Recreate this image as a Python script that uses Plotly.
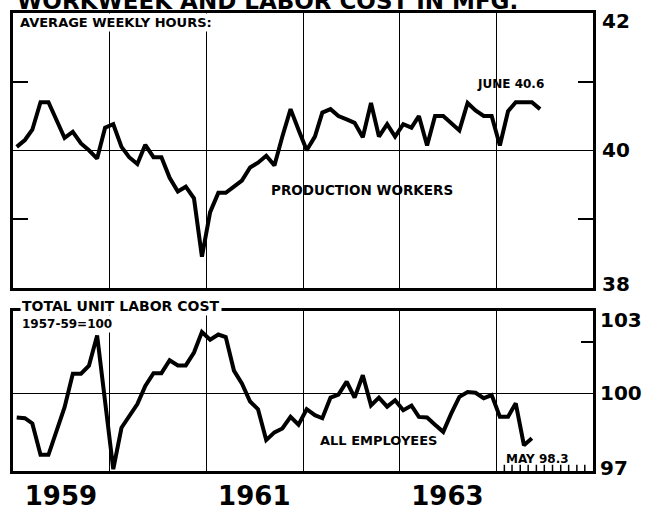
import pandas as pd
import plotly.graph_objects as go

# average weekly hours, production workers, Jan 1959 - Jun 1964
hours = [40.05, 40.15, 40.3, 40.7, 40.7, 40.45, 40.18, 40.27, 40.1, 40.0, 39.88, 40.33,
         40.38, 40.05, 39.9, 39.8, 40.08, 39.9, 39.9, 39.6, 39.4, 39.47, 39.3, 38.45,
         39.1, 39.38, 39.38, 39.47, 39.56, 39.75, 39.82, 39.92, 39.78, 40.2, 40.6, 40.3,
         40.0, 40.2, 40.55, 40.6, 40.5, 40.45, 40.4, 40.19, 40.69, 40.2, 40.38, 40.2,
         40.38, 40.33, 40.5, 40.07, 40.5, 40.5, 40.4, 40.29, 40.69, 40.58, 40.5, 40.5,
         40.07, 40.57, 40.7, 40.7, 40.7, 40.6]

# total unit labor cost, all employees (1957-59=100), Jan 1959 - May 1964
cost = [99.08, 99.05, 98.85, 97.63, 97.63, 98.62, 99.48, 100.78, 100.78, 101.09, 102.26, 99.7,
        97.07, 98.68, 99.1, 99.6, 100.3, 100.8, 100.8, 101.3, 101.1, 101.1, 101.6, 102.4,
        102.1, 102.3, 102.2, 100.9, 100.4, 99.7, 99.4, 98.2, 98.5, 98.65, 99.1, 98.8,
        99.4, 99.17, 99.05, 99.85, 99.97, 100.47, 99.85, 100.72, 99.55, 99.85, 99.5, 99.75,
        99.36, 99.54, 99.1, 99.08, 98.8, 98.52, 99.23, 99.88, 100.07, 100.04, 99.83, 99.95,
        99.11, 99.11, 99.63, 98.0, 98.27]

hours_dates = pd.date_range("1959-01-01", periods=len(hours), freq="MS") + pd.Timedelta(days=14)
cost_dates = pd.date_range("1959-01-01", periods=len(cost), freq="MS") + pd.Timedelta(days=14)
month_marks = pd.date_range("1964-02-01", periods=11, freq="MS")

year_ticks = ["1959-07-01", "1961-07-01", "1963-07-01"]
year_labels = ["1959", "1961", "1963"]
hours_labels = [42, 40, 38]
cost_labels = [103, 100, 97]

FONT = "DejaVu Sans"
fig = go.Figure()

fig.add_trace(go.Scatter(x=hours_dates, y=hours, mode="lines",
                         line=dict(color="black", width=4), xaxis="x", yaxis="y"))
fig.add_trace(go.Scatter(x=cost_dates, y=cost, mode="lines",
                         line=dict(color="black", width=4), xaxis="x2", yaxis="y2"))
# little monthly hash marks along the bottom for 1964
fig.add_trace(go.Scatter(x=month_marks, y=[97] * len(month_marks), mode="markers",
                         marker=dict(symbol="line-ns", size=9, line=dict(color="black", width=1.5)),
                         xaxis="x2", yaxis="y2"))

xr = ["1959-01-01", "1965-01-01"]
year_grid = dict(dtick="M12", tick0="1959-01-01", showgrid=True, gridcolor="black", gridwidth=1.3, ticks="")

fig.update_layout(
    margin=dict(l=10, r=52, t=12, b=27),
    paper_bgcolor="white", plot_bgcolor="white",
    showlegend=False,
    font=dict(family=FONT, color="black", weight="bold"),
    xaxis=dict(domain=[0, 1], anchor="y", range=xr, showline=True, linecolor="black", linewidth=3,
               mirror=True, showgrid=False, tickvals=[], showticklabels=False, zeroline=False,
               minor=year_grid),
    yaxis=dict(domain=[0.4004, 1], anchor="x", range=[38, 42], showline=True, linecolor="black",
               linewidth=3, mirror="ticks", showgrid=False, tickvals=[39, 41], ticks="inside",
               ticklen=15, tickwidth=2, tickcolor="black", showticklabels=False, zeroline=False,
               minor=dict(tickvals=[40], showgrid=True, gridcolor="black", gridwidth=1.3, ticks="")),
    xaxis2=dict(domain=[0, 1], anchor="y2", range=xr, showline=True, linecolor="black", linewidth=3,
                mirror=True, showgrid=False, tickvals=year_ticks, ticktext=year_labels, ticks="",
                tickfont=dict(size=26, family=FONT, weight="bold"), zeroline=False, minor=year_grid),
    yaxis2=dict(domain=[0, 0.3485], anchor="x2", range=[97, 103.2], side="right", showline=True,
                linecolor="black", linewidth=3, mirror=True, showgrid=False, tickvals=[102],
                ticks="inside", ticklen=12, tickwidth=2, tickcolor="black", showticklabels=False,
                zeroline=False,
                minor=dict(tickvals=[100], showgrid=True, gridcolor="black", gridwidth=1.3, ticks="")),
)


def note(text, x, y, size, xanchor="left", yanchor="middle", bg=None, **kw):
    fig.add_annotation(text=text, x=x, y=y, xref=kw.pop("xref", "paper"), yref=kw.pop("yref", "paper"),
                       xanchor=xanchor, yanchor=yanchor, showarrow=False,
                       bgcolor=bg, borderpad=1,
                       font=dict(family=FONT, size=size, color="black", weight="bold"), **kw)


note("WORKWEEK AND LABOR COST IN MFG.", 0.0034, 1, 23, yanchor="bottom", yshift=-3)
note("AVERAGE WEEKLY HOURS:", 0.0086, 0.979, 13, bg="white")
note("JUNE 40.6", 0.8576, 0.845, 12, xanchor="center")
note("PRODUCTION WORKERS", 0.6020, 0.614, 13.5, xanchor="center")
note("TOTAL UNIT LABOR COST", 0.012, 0.3600, 14, bg="white")
note("1957-59=100", 0.012, 0.320, 12, bg="white")
note("ALL EMPLOYEES", 0.631, 0.066, 13, xanchor="center")
note("MAY 98.3", 0.9040, 0.027, 12, xanchor="center")

for v, ys in zip(hours_labels, [-8, 0, 4]):
    note(str(v), 1.012, v, 20, yref="y", yshift=ys)
for v, ys in zip(cost_labels, [-3, 1, 3]):
    note(str(v), 1.008, v, 20, yref="y2", yshift=ys)

# size the figure to the browser window and drop the default body margin
page_fix = ("for (const el of [document.documentElement, document.body]) {"
            "el.style.margin='0'; el.style.padding='0'; el.style.overflow='hidden';}")
fig.write_html("out.html", post_script=page_fix, config={"displayModeBar": False},
               default_width="100vw", default_height="100vh")
